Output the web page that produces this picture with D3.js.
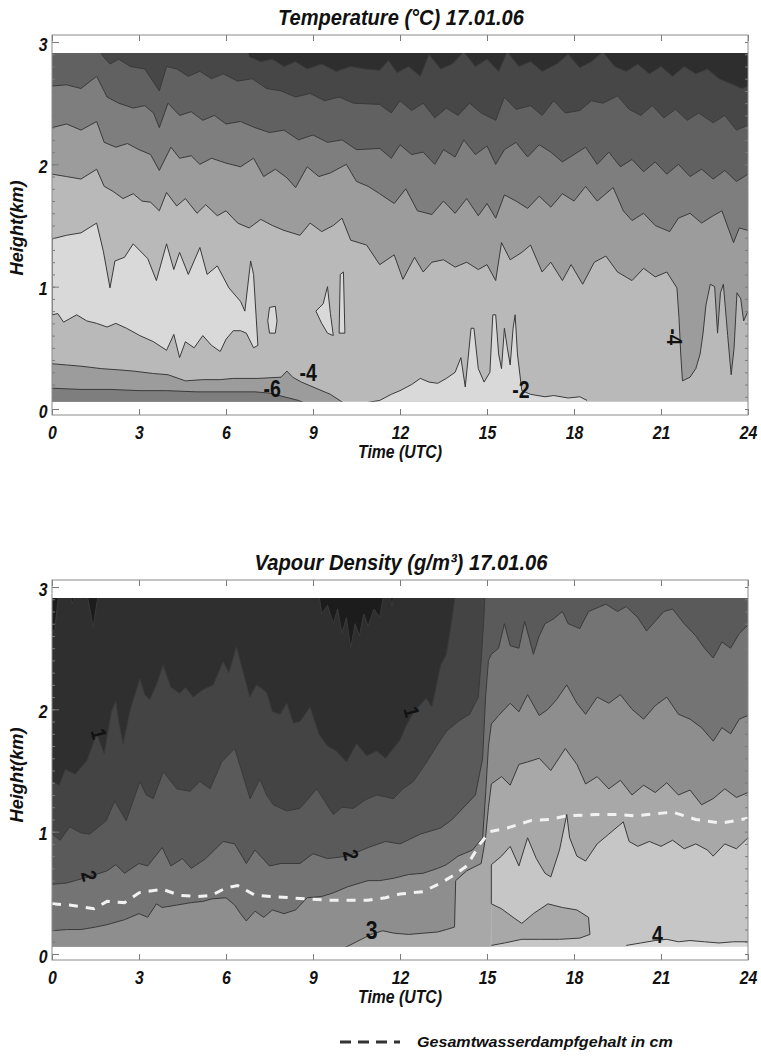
<!DOCTYPE html>
<html lang='en'>

<head>
    <meta charset='UTF-8' />
    <title>Temperature and Vapour Density 17.01.06</title>
    <script src="https://cdn.jsdelivr.net/npm/d3@7"></script>
    <style>
        html,
        body {
            margin: 0;
            background: white;
        }

        svg {
            display: block;
        }

        text {
            font-family: "Liberation Sans", Arial, sans-serif;
            font-weight: bold;
            font-style: italic;
            fill: #111;
        }
    </style>
</head>

<body>
    <svg id="chart" width="761" height="1057"></svg>

    <script>
        // begin data //

        const hourTicks = [0, 3, 6, 9, 12, 15, 18, 21, 24];
        const kmTicks = [0, 1, 2, 3];

        // temperature isolines, [hour, km]
        const tempM4Upper = [[0, 1.92], [0.5, 1.9], [1.0, 1.88], [1.54, 1.96], [1.8, 1.82], [2.1, 1.78], [2.45, 1.72], [2.8, 1.76], [3.1, 1.7], [3.4, 1.69], [3.7, 1.62], [3.95, 1.77], [4.3, 1.66], [4.6, 1.72], [5.0, 1.6], [5.3, 1.67], [5.7, 1.58], [6.0, 1.62], [6.4, 1.52], [6.8, 1.48], [7.2, 1.55], [7.6, 1.5], [8.0, 1.46], [8.55, 1.42], [8.9, 1.52], [9.3, 1.45], [9.7, 1.5], [10.0, 1.56], [10.3, 1.38], [10.85, 1.34], [11.3, 1.18], [11.8, 1.26], [12.1, 1.06], [12.5, 1.24], [12.8, 1.12], [13.1, 1.2], [13.5, 1.22], [13.9, 1.16], [14.3, 1.2], [14.7, 1.14], [15.0, 1.18], [15.3, 1.05], [15.5, 1.36], [15.8, 1.22], [16.2, 1.28], [16.5, 1.34], [16.9, 1.12], [17.2, 1.2], [17.6, 1.05], [17.9, 1.18], [18.3, 1.02], [18.7, 1.2], [19.1, 1.25], [19.5, 1.12], [20.0, 1.05], [20.4, 1.15], [20.8, 1.08], [21.2, 1.12], [21.55, 0.99], [21.62, 0.75], [21.68, 0.45], [21.74, 0.23], [22.0, 0.26], [22.2, 0.33], [22.35, 0.45], [22.45, 0.62], [22.55, 0.85], [22.7, 1.02], [22.85, 1.0], [22.95, 0.62], [23.05, 0.95], [23.15, 1.02], [23.3, 0.6], [23.42, 0.28], [23.52, 0.5], [23.62, 0.95], [23.75, 0.9], [23.85, 0.72], [24, 0.8]];
        const tempM6 = [[0, 2.3], [0.5, 2.33], [1.0, 2.28], [1.54, 2.35], [1.8, 2.18], [2.2, 2.14], [2.6, 2.17], [3.0, 2.12], [3.4, 2.08], [3.7, 1.95], [4.1, 2.14], [4.4, 2.05], [4.8, 2.07], [5.1, 2.0], [5.5, 2.05], [6.0, 2.01], [6.5, 1.98], [6.95, 2.05], [7.3, 1.9], [7.7, 1.96], [8.1, 1.89], [8.4, 1.81], [8.8, 1.98], [9.2, 1.9], [9.6, 1.93], [10.15, 2.0], [10.5, 1.86], [10.9, 1.82], [11.3, 1.76], [11.8, 1.68], [12.2, 1.8], [12.6, 1.62], [13.1, 1.59], [13.5, 1.7], [13.9, 1.6], [14.3, 1.72], [14.7, 1.58], [15.0, 1.68], [15.3, 1.56], [15.6, 1.75], [16.0, 1.7], [16.4, 1.64], [16.8, 1.74], [17.2, 1.65], [17.6, 1.76], [18.0, 1.7], [18.4, 1.82], [18.8, 1.7], [19.35, 1.81], [19.7, 1.62], [20.0, 1.54], [20.4, 1.6], [20.8, 1.5], [21.3, 1.45], [21.6, 1.56], [22.0, 1.6], [22.4, 1.52], [22.8, 1.58], [23.1, 1.62], [23.5, 1.36], [23.7, 1.48], [24, 1.46]];
        const tempM8 = [[0, 2.64], [0.5, 2.65], [1.0, 2.62], [1.54, 2.72], [1.9, 2.55], [2.3, 2.5], [2.8, 2.46], [3.2, 2.48], [3.5, 2.42], [3.7, 2.3], [4.0, 2.5], [4.4, 2.4], [4.8, 2.43], [5.2, 2.36], [5.6, 2.4], [6.0, 2.33], [6.5, 2.35], [7.0, 2.3], [7.5, 2.26], [8.0, 2.28], [8.5, 2.2], [9.0, 2.24], [9.5, 2.18], [10.0, 2.2], [10.5, 2.12], [11.3, 2.13], [11.7, 2.05], [12.0, 2.16], [12.4, 2.08], [12.8, 2.1], [13.2, 2.0], [13.5, 2.12], [13.9, 2.06], [14.2, 2.2], [14.6, 2.08], [15.0, 2.15], [15.3, 2.0], [15.6, 2.12], [16.0, 2.18], [16.4, 2.06], [16.8, 2.16], [17.2, 2.1], [17.6, 2.02], [18.0, 2.08], [18.4, 2.14], [18.8, 2.0], [19.2, 2.1], [19.6, 1.98], [20.0, 2.04], [20.4, 1.94], [20.8, 2.02], [21.2, 1.92], [21.6, 2.0], [22.0, 1.9], [22.4, 1.96], [22.8, 1.88], [23.2, 1.95], [23.6, 1.86], [24, 1.92]];
        const tempM10 = [[0, 3.1], [1.5, 3.1], [1.7, 2.9], [2.0, 2.82], [2.3, 2.86], [2.7, 2.8], [3.2, 2.78], [3.7, 2.6], [3.95, 2.8], [4.3, 2.78], [4.7, 2.72], [5.1, 2.76], [5.5, 2.7], [5.9, 2.74], [6.4, 2.68], [6.9, 2.7], [7.4, 2.62], [7.9, 2.6], [8.4, 2.55], [8.9, 2.58], [9.4, 2.52], [9.9, 2.55], [10.4, 2.5], [11.3, 2.49], [11.7, 2.42], [12.0, 2.52], [12.4, 2.44], [12.8, 2.5], [13.2, 2.38], [13.6, 2.46], [14.0, 2.4], [14.4, 2.5], [14.8, 2.42], [15.3, 2.36], [15.6, 2.55], [16.0, 2.45], [16.5, 2.48], [16.9, 2.4], [17.3, 2.52], [17.7, 2.42], [18.2, 2.44], [18.6, 2.52], [19.0, 2.5], [19.5, 2.56], [19.9, 2.45], [20.3, 2.4], [20.7, 2.48], [21.1, 2.38], [21.5, 2.45], [21.9, 2.36], [22.3, 2.42], [22.8, 2.34], [23.2, 2.4], [23.6, 2.28], [24, 2.32]];
        const tempM12 = [[0, 3.1], [6.6, 3.1], [6.8, 2.88], [7.2, 2.84], [7.6, 2.86], [8.0, 2.8], [8.4, 2.84], [8.8, 2.78], [9.3, 2.82], [9.8, 2.76], [10.3, 2.8], [10.8, 2.78], [11.3, 2.77], [11.6, 2.85], [11.9, 2.75], [12.3, 2.8], [12.7, 2.72], [13.0, 2.9], [13.4, 2.78], [13.8, 2.82], [14.2, 2.92], [14.6, 2.8], [15.0, 2.86], [15.4, 2.76], [15.7, 2.92], [16.1, 2.8], [16.5, 2.84], [16.9, 2.76], [17.4, 2.82], [17.8, 2.9], [18.2, 2.79], [18.6, 2.84], [19.0, 2.92], [19.4, 2.8], [19.8, 2.76], [20.2, 2.82], [20.6, 2.74], [21.0, 2.8], [21.4, 2.72], [21.8, 2.8], [22.2, 2.74], [22.6, 2.78], [23.0, 2.7], [23.4, 2.66], [23.8, 2.62], [24, 2.64]];
        const tempM4Lower = [[0, 0.37], [0.5, 0.36], [1.0, 0.35], [1.7, 0.33], [2.3, 0.32], [2.8, 0.31], [3.5, 0.29], [4.0, 0.28], [4.6, 0.23], [5.2, 0.24], [5.8, 0.24], [6.25, 0.25], [7.1, 0.25], [7.9, 0.26], [8.1, 0.31], [8.3, 0.26], [8.6, 0.22], [9.1, 0.17], [9.6, 0.12], [10.05, 0.05], [10.1, -0.1], [24, -0.1]];
        const tempM6Lower = [[0, 0.17], [1.0, 0.16], [2.0, 0.16], [3.0, 0.15], [3.95, 0.15], [5.0, 0.14], [6.0, 0.14], [7.0, 0.14], [7.5, 0.13], [8.0, 0.1], [8.5, 0.07], [8.7, 0.05], [8.75, -0.1], [24, -0.1]];
        const tempM2Lower = [[0, -0.1], [10.75, -0.1], [10.8, 0.05], [11.3, 0.07], [11.7, 0.12], [12.0, 0.15], [12.4, 0.2], [12.7, 0.25], [13.0, 0.22], [13.3, 0.21], [13.6, 0.25], [13.9, 0.3], [14.1, 0.42], [14.25, 0.18], [14.45, 0.66], [14.55, 0.66], [14.7, 0.33], [14.9, 0.22], [15.1, 0.3], [15.2, 0.77], [15.3, 0.77], [15.4, 0.45], [15.5, 0.33], [15.6, 0.66], [15.7, 0.5], [15.8, 0.36], [15.9, 0.66], [15.97, 0.77], [16.05, 0.45], [16.2, 0.15], [16.5, 0.12], [17.0, 0.1], [17.3, 0.11], [17.8, 0.09], [18.2, 0.1], [18.45, 0.07], [18.5, -0.1], [24, -0.1]];
        const tempBlob = [[0, 1.39], [0.5, 1.42], [1.0, 1.44], [1.54, 1.52], [1.77, 1.29], [2.0, 0.99], [2.17, 1.21], [2.5, 1.24], [2.8, 1.35], [3.3, 1.23], [3.6, 1.05], [3.95, 1.35], [4.2, 1.14], [4.4, 1.28], [4.7, 1.1], [5.1, 1.32], [5.35, 1.1], [5.7, 1.17], [6.1, 0.99], [6.5, 0.88], [6.65, 0.8], [6.85, 1.21], [6.95, 1.1], [7.1, 0.52], [6.95, 0.5], [6.7, 0.62], [6.5, 0.64], [6.25, 0.64], [6.0, 0.57], [5.8, 0.47], [5.5, 0.52], [5.2, 0.6], [4.9, 0.5], [4.6, 0.55], [4.4, 0.42], [4.2, 0.61], [3.95, 0.48], [3.5, 0.55], [3.03, 0.6], [2.57, 0.66], [2.2, 0.7], [1.9, 0.67], [1.54, 0.7], [1.2, 0.72], [0.85, 0.77], [0.4, 0.71], [0.2, 0.78], [0, 0.77]];
        const tempIslands = [
            [[7.5, 0.83], [7.7, 0.84], [7.76, 0.72], [7.7, 0.62], [7.5, 0.62], [7.44, 0.72]],
            [[9.1, 0.8], [9.35, 0.86], [9.5, 1.0], [9.6, 0.78], [9.7, 0.6], [9.5, 0.62], [9.3, 0.7]],
            [[9.9, 0.62], [9.94, 1.1], [10.05, 1.12], [10.1, 0.62]]
        ];
        const tempLabels = [["-6", 7.59, 0.16], ["-4", 8.83, 0.29], ["-2", 16.17, 0.155], ["-4", 21.45, 0.59]];

        // vapour density isolines, [hour, km]
        const vap1 = [[0, 1.41], [0.25, 1.38], [0.46, 1.51], [0.8, 1.47], [1.2, 1.58], [1.54, 1.8], [1.8, 1.64], [2.05, 1.98], [2.2, 2.07], [2.3, 1.9], [2.45, 1.72], [2.7, 2.0], [3.03, 2.25], [3.2, 2.12], [3.37, 2.08], [3.6, 2.2], [3.83, 2.36], [4.1, 2.18], [4.41, 2.13], [4.6, 2.18], [4.87, 2.1], [5.2, 2.16], [5.56, 2.2], [5.9, 2.39], [6.1, 2.3], [6.36, 2.51], [6.6, 2.3], [6.82, 2.1], [7.05, 2.2], [7.4, 2.14], [7.6, 1.98], [7.86, 1.96], [8.1, 2.05], [8.32, 1.89], [8.55, 1.9], [8.9, 2.02], [9.2, 1.8], [9.5, 1.7], [9.8, 1.66], [10.16, 1.57], [10.5, 1.72], [10.85, 1.62], [11.2, 1.66], [11.5, 1.6], [11.77, 1.68], [12.0, 1.75], [12.2, 1.86], [12.45, 1.97], [12.9, 2.09], [13.1, 2.02], [13.4, 2.36], [13.6, 2.45], [13.7, 2.6], [13.8, 2.75], [13.9, 2.93], [14.0, 3.1], [24, 3.1]];
        const vap15 = [[0, 0.98], [0.28, 0.93], [0.61, 1.04], [1.0, 0.99], [1.3, 0.98], [1.87, 1.09], [2.16, 1.25], [2.56, 1.09], [3.03, 1.41], [3.25, 1.3], [3.49, 1.27], [3.84, 1.49], [4.3, 1.35], [4.76, 1.33], [5.1, 1.41], [5.45, 1.35], [5.85, 1.57], [6.3, 1.68], [6.6, 1.45], [6.83, 1.27], [7.17, 1.43], [7.4, 1.3], [7.63, 1.22], [8.09, 1.17], [8.55, 1.19], [9.13, 1.35], [9.7, 1.14], [10.0, 1.2], [10.39, 1.19], [10.8, 1.26], [11.2, 1.3], [11.77, 1.27], [12.1, 1.35], [12.46, 1.41], [12.92, 1.57], [13.26, 1.7], [13.6, 1.82], [14.0, 1.9], [14.4, 1.96], [14.7, 2.1], [14.8, 2.4], [14.88, 2.7], [14.93, 2.93], [15.0, 3.1], [24, 3.1]];
        const vap2 = [[0, 0.57], [0.5, 0.58], [0.8, 0.6], [1.25, 0.63], [1.9, 0.68], [2.2, 0.73], [2.5, 0.66], [3.0, 0.74], [3.3, 0.72], [3.8, 0.87], [4.1, 0.72], [4.5, 0.78], [4.8, 0.7], [5.3, 0.78], [5.9, 0.92], [6.3, 0.9], [6.7, 0.74], [7.0, 0.85], [7.5, 0.72], [7.9, 0.74], [8.55, 0.74], [9.0, 0.82], [9.5, 0.78], [10.2, 0.8], [10.9, 0.87], [11.5, 0.92], [12.0, 0.9], [12.7, 0.98], [13.4, 1.03], [13.8, 1.1], [14.2, 1.2], [14.6, 1.3], [14.85, 1.6], [14.95, 2.1], [15.05, 2.4], [15.15, 2.45], [15.4, 2.5], [15.6, 2.7], [15.8, 2.52], [16.1, 2.5], [16.3, 2.72], [16.6, 2.45], [16.8, 2.6], [17.0, 2.7], [17.3, 2.74], [17.6, 2.8], [17.8, 2.7], [18.2, 2.66], [18.5, 2.8], [18.8, 2.83], [19.1, 2.86], [19.5, 2.8], [19.8, 2.84], [20.2, 2.75], [20.5, 2.64], [20.8, 2.72], [21.1, 2.8], [21.4, 2.82], [21.8, 2.7], [22.2, 2.6], [22.5, 2.5], [22.8, 2.42], [23.1, 2.55], [23.4, 2.5], [23.7, 2.62], [24, 2.69]];
        const vap25 = [[0, 0.19], [0.5, 0.2], [1.0, 0.2], [1.5, 0.22], [1.9, 0.24], [2.5, 0.28], [3.0, 0.33], [3.3, 0.3], [3.6, 0.41], [3.8, 0.38], [4.3, 0.4], [4.8, 0.42], [5.2, 0.43], [5.5, 0.45], [6.0, 0.46], [6.3, 0.4], [6.5, 0.33], [6.7, 0.27], [7.0, 0.35], [7.3, 0.3], [7.6, 0.36], [8.0, 0.33], [8.4, 0.36], [8.8, 0.46], [9.3, 0.47], [9.7, 0.5], [10.2, 0.55], [10.9, 0.6], [11.3, 0.6], [11.8, 0.62], [12.3, 0.65], [12.8, 0.66], [13.3, 0.7], [13.6, 0.73], [14.0, 0.8], [14.5, 0.85], [14.85, 0.95], [14.95, 1.3], [15.05, 1.7], [15.15, 1.88], [15.4, 1.95], [15.8, 2.05], [16.1, 1.98], [16.4, 2.12], [16.8, 1.95], [17.1, 2.0], [17.4, 2.08], [17.75, 2.2], [18.1, 2.05], [18.4, 1.96], [18.8, 2.1], [19.2, 2.05], [19.6, 2.12], [20.0, 2.0], [20.4, 1.92], [20.8, 2.03], [21.2, 2.1], [21.6, 1.96], [22.0, 1.92], [22.4, 1.85], [22.8, 1.74], [23.1, 1.85], [23.4, 1.8], [23.7, 1.92], [24, 1.95]];
        const vap3 = [[0, -0.1], [9.9, -0.1], [10.0, 0.04], [10.5, 0.1], [11.0, 0.16], [11.4, 0.19], [11.8, 0.17], [12.3, 0.16], [12.8, 0.17], [13.3, 0.18], [13.6, 0.2], [13.88, 0.22], [13.92, 0.6], [14.3, 0.68], [14.8, 0.74], [14.95, 0.95], [15.05, 1.2], [15.15, 1.39], [15.5, 1.45], [15.8, 1.38], [16.1, 1.55], [16.4, 1.57], [16.8, 1.6], [17.2, 1.5], [17.7, 1.68], [18.1, 1.55], [18.4, 1.39], [18.8, 1.45], [19.2, 1.35], [19.6, 1.42], [20.0, 1.3], [20.4, 1.38], [20.8, 1.32], [21.2, 1.4], [21.6, 1.3], [22.0, 1.34], [22.4, 1.22], [22.8, 1.27], [23.2, 1.35], [23.6, 1.28], [24, 1.32]];
        const vap35 = [[0, -0.1], [15.12, -0.1], [15.15, 0.41], [15.15, 0.73], [15.5, 0.8], [15.8, 0.88], [16.1, 0.72], [16.4, 0.95], [16.7, 0.78], [17.0, 0.66], [17.2, 0.63], [17.5, 0.85], [17.75, 1.14], [17.85, 0.95], [18.1, 0.8], [18.4, 0.76], [18.8, 0.9], [19.2, 0.98], [19.7, 1.08], [19.9, 0.92], [20.2, 0.88], [20.6, 0.92], [21.0, 0.88], [21.4, 0.93], [21.8, 0.86], [22.2, 0.9], [22.6, 0.85], [22.8, 0.8], [23.2, 0.9], [23.6, 0.86], [24, 0.95]];
        const vap4 = [[0, -0.1], [19.75, -0.1], [19.8, 0.07], [20.3, 0.09], [20.8, 0.11], [21.2, 0.12], [21.6, 0.1], [22.0, 0.11], [22.5, 0.1], [23.0, 0.09], [23.5, 0.1], [24, 0.1]];
        const vapTongue = [[15.15, 0.41], [15.5, 0.37], [15.9, 0.3], [16.2, 0.25], [16.6, 0.33], [17.1, 0.41], [17.6, 0.38], [18.1, 0.36], [18.5, 0.3], [18.55, 0.16], [18.2, 0.13], [17.5, 0.12], [16.8, 0.12], [16.2, 0.12], [15.6, 0.09], [15.15, 0.07]];
        const vapSpikes = [
            [[0, 2.95], [0, 2.62], [0.1, 2.66], [0.2, 2.88], [0.25, 2.95]],
            [[0.6, 2.95], [0.7, 2.86], [0.8, 2.95]],
            [[1.2, 2.95], [1.32, 2.8], [1.42, 2.67], [1.6, 2.95]],
            [[9.2, 2.95], [9.3, 2.78], [9.5, 2.85], [9.7, 2.7], [9.85, 2.82], [10.0, 2.62], [10.15, 2.75], [10.3, 2.5], [10.45, 2.7], [10.6, 2.6], [10.75, 2.78], [10.9, 2.68], [11.1, 2.82], [11.3, 2.75], [11.45, 2.95]],
            [[11.65, 2.95], [11.72, 2.84], [11.8, 2.95]]
        ];
        const waterVapourTotal = [[0, 0.41], [0.6, 0.4], [1.45, 0.37], [1.9, 0.43], [2.5, 0.42], [3.0, 0.5], [3.8, 0.53], [4.4, 0.48], [5.0, 0.47], [5.5, 0.48], [6.0, 0.54], [6.4, 0.56], [7.0, 0.48], [7.6, 0.47], [8.2, 0.46], [8.8, 0.45], [9.5, 0.44], [10.2, 0.44], [10.9, 0.44], [11.5, 0.46], [12.0, 0.49], [12.8, 0.51], [13.4, 0.58], [13.9, 0.65], [14.3, 0.72], [14.76, 0.9], [15.1, 1.0], [15.7, 1.03], [16.5, 1.09], [17.2, 1.1], [17.75, 1.13], [18.8, 1.14], [19.5, 1.14], [20.1, 1.13], [21.4, 1.16], [22.2, 1.1], [23.1, 1.07], [24, 1.11]];
        const vapLabels = [["1", 1.62, 1.8], ["2", 1.29, 0.64], ["1", 12.41, 1.98], ["2", 10.31, 0.81], ["3", 11.02, 0.19], ["4", 20.88, 0.155]];

        // end data //

        // begin drawing //

        const svg = d3.select("#chart");
        const xRange = [52, 748];
        const kmPx = 122.33;
        const lineColour = "#3a3a3a";

        function makePanel(id, frameTop, frameBottom, zeroY, baseColour) {
            const x = d3.scaleLinear().domain([0, 24]).range(xRange);
            const y = d3.scaleLinear().domain([0, 3]).range([zeroY, zeroY - 3 * kmPx]);

            svg.append("clipPath").attr("id", id)
                .append("rect")
                .attr("x", x(0)).attr("y", y(2.91))
                .attr("width", x(24) - x(0)).attr("height", y(0.06) - y(2.91));

            const plot = svg.append("g").attr("clip-path", `url(#${id})`);
            plot.append("rect")
                .attr("x", x(0)).attr("y", y(3.2))
                .attr("width", x(24) - x(0)).attr("height", y(-0.2) - y(3.2))
                .attr("fill", baseColour);

            return { x, y, plot, frameTop, frameBottom };
        }

        function fillAbove(p, pts, colour) {
            p.plot.append("path").datum(pts)
                .attr("d", d3.area().x(d => p.x(d[0])).y0(p.y(3.3)).y1(d => p.y(d[1])))
                .attr("fill", colour);
        }

        function fillBelow(p, pts, colour) {
            p.plot.append("path").datum(pts)
                .attr("d", d3.area().x(d => p.x(d[0])).y0(p.y(-0.3)).y1(d => p.y(d[1])))
                .attr("fill", colour);
        }

        function fillShape(p, pts, colour) {
            p.plot.append("path").datum(pts)
                .attr("d", d3.line().x(d => p.x(d[0])).y(d => p.y(d[1])).curve(d3.curveLinearClosed))
                .attr("fill", colour);
        }

        function strokeLine(p, pts, closed = false) {
            const line = d3.line()
                .defined(d => d[1] >= -0.01 && d[1] <= 2.95)
                .x(d => p.x(d[0])).y(d => p.y(d[1]));
            if (closed) line.curve(d3.curveLinearClosed);
            p.plot.append("path").datum(pts)
                .attr("d", line)
                .attr("fill", "none")
                .attr("stroke", lineColour)
                .attr("stroke-width", 1);
        }

        function placeText(str, cx, cy, size, width, angle = 0, anchor = "middle") {
            const g = svg.append("g").attr("transform", `translate(${cx},${cy}) rotate(${angle})`);
            const t = g.append("text")
                .attr("text-anchor", anchor)
                .style("font-size", size + "px")
                .text(str);
            if (width) t.attr("transform", `scale(${width / t.node().getComputedTextLength()},1)`);
            return t;
        }

        function drawLabels(p, labels, angles, sizes) {
            labels.forEach((l, i) => {
                svg.append("text")
                    .attr("transform", `translate(${p.x(l[1])},${p.y(l[2])}) rotate(${angles[i]}) scale(0.85,1)`)
                    .attr("text-anchor", "middle")
                    .attr("dominant-baseline", "central")
                    .style("font-size", sizes[i] + "px")
                    .style("font-style", "normal")
                    .text(l[0]);
            });
        }

        function drawAxes(p) {
            const g = svg.append("g");
            const minor = d3.range(0, 31).map(i => i / 10);

            g.append("g").attr("transform", `translate(0,${p.frameBottom})`)
                .call(d3.axisBottom(p.x).tickValues(hourTicks).tickSizeInner(-6).tickSizeOuter(0).tickPadding(11));
            g.append("g").attr("transform", `translate(0,${p.frameTop})`)
                .call(d3.axisTop(p.x).tickValues(hourTicks).tickSizeInner(-6).tickSizeOuter(0).tickFormat(""));
            g.append("g").attr("class", "km-axis").attr("transform", `translate(${xRange[0]},0)`)
                .call(d3.axisLeft(p.y).tickValues(kmTicks).tickFormat(d3.format("d"))
                    .tickSizeInner(-7).tickSizeOuter(0).tickPadding(5));
            g.append("g").attr("transform", `translate(${xRange[0]},0)`)
                .call(d3.axisLeft(p.y).tickValues(minor).tickSizeInner(-3).tickSizeOuter(0).tickFormat(""));
            g.append("g").attr("transform", `translate(${xRange[1]},0)`)
                .call(d3.axisRight(p.y).tickValues(minor).tickSizeInner(-3).tickSizeOuter(0).tickFormat(""));

            g.selectAll(".domain").remove();
            g.selectAll(".tick line").attr("stroke", "#7a7a7a");
            g.selectAll(".tick text")
                .attr("fill", "#111")
                .attr("transform", "scale(0.88,1)")
                .style("font-size", "18px");
            g.selectAll(".km-axis .tick text").attr("dy", "0.45em");

            g.append("rect")
                .attr("x", xRange[0]).attr("y", p.frameTop)
                .attr("width", xRange[1] - xRange[0]).attr("height", p.frameBottom - p.frameTop)
                .attr("fill", "none")
                .attr("stroke", "#8a8a8a")
                .attr("stroke-width", 1);
        }

        // temperature panel
        const tempShades = ["#d9d9d9", "#b9b9b9", "#9c9c9c", "#7e7e7e", "#616161", "#474747", "#2e2e2e"];
        const temp = makePanel("clip-temp", 35, 415, 409, tempShades[1]);

        fillAbove(temp, tempM4Upper, tempShades[2]);
        fillAbove(temp, tempM6, tempShades[3]);
        fillAbove(temp, tempM8, tempShades[4]);
        fillAbove(temp, tempM10, tempShades[5]);
        fillAbove(temp, tempM12, tempShades[6]);
        fillBelow(temp, tempM4Lower, tempShades[2]);
        fillBelow(temp, tempM6Lower, tempShades[3]);
        fillBelow(temp, tempM2Lower, tempShades[0]);
        fillShape(temp, tempBlob, tempShades[0]);
        tempIslands.forEach(s => fillShape(temp, s, tempShades[0]));

        [tempM4Upper, tempM6, tempM8, tempM10, tempM12, tempM4Lower, tempM6Lower, tempM2Lower]
            .forEach(l => strokeLine(temp, l));
        strokeLine(temp, tempBlob, true);
        tempIslands.forEach(s => strokeLine(temp, s, true));

        drawAxes(temp);
        drawLabels(temp, tempLabels, [0, 0, 0, 90], [23, 23, 23, 22]);

        // vapour density panel
        const vapShades = ["#1c1c1c", "#2f2f2f", "#444444", "#5a5a5a", "#747474", "#8e8e8e", "#a8a8a8", "#c6c6c6", "#d9d9d9"];
        const vap = makePanel("clip-vap", 580, 960, 954, vapShades[8]);

        fillAbove(vap, vap4, vapShades[7]);
        fillAbove(vap, vap35, vapShades[6]);
        fillAbove(vap, vap3, vapShades[5]);
        fillAbove(vap, vap25, vapShades[4]);
        fillAbove(vap, vap2, vapShades[3]);
        fillAbove(vap, vap15, vapShades[2]);
        fillAbove(vap, vap1, vapShades[1]);
        fillShape(vap, vapTongue, vapShades[6]);
        vapSpikes.forEach(s => fillShape(vap, s, vapShades[0]));

        [vap1, vap15, vap2, vap25, vap3, vap35, vap4, vapTongue].forEach(l => strokeLine(vap, l));
        vapSpikes.forEach(s => strokeLine(vap, s));

        vap.plot.append("path").datum(waterVapourTotal)
            .attr("d", d3.line().x(d => vap.x(d[0])).y(d => vap.y(d[1])))
            .attr("fill", "none")
            .attr("stroke", "#f2f2f2")
            .attr("stroke-width", 3)
            .attr("stroke-dasharray", "9,8");

        drawAxes(vap);
        drawLabels(vap, vapLabels, [75, 75, 75, 75, 0, 0], [21, 21, 21, 21, 25, 23]);

        // titles and legend
        placeText("Temperature (°C) 17.01.06", 401, 25, 22, 246);
        placeText("Vapour Density (g/m³) 17.01.06", 401, 570, 22, 293);
        placeText("Time (UTC)", 400, 458, 18, 84);
        placeText("Time (UTC)", 400, 1003, 18, 84);
        placeText("Height(km)", 23, 228, 18, 95, -90);
        placeText("Height(km)", 23, 775, 18, 95, -90);

        svg.append("line")
            .attr("x1", 340).attr("x2", 400).attr("y1", 1042).attr("y2", 1042)
            .attr("stroke", "#333").attr("stroke-width", 3)
            .attr("stroke-dasharray", "11,7");
        placeText("Gesamtwasserdampfgehalt in cm", 417, 1047, 15, 256, 0, "start");

        // end drawing //
    </script>
</body>

</html>
